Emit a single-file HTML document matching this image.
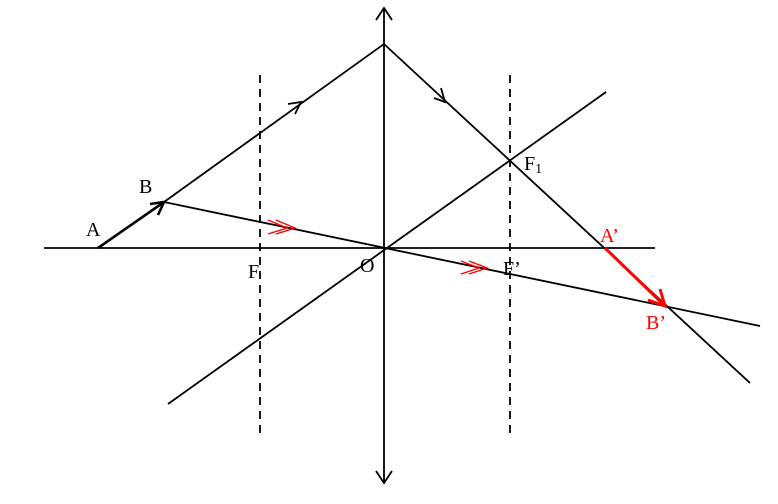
<!DOCTYPE html>
<html><head><meta charset="utf-8"><style>
body{margin:0;background:#fff}
</style></head><body>
<svg width="778" height="499" viewBox="0 0 778 499" xmlns="http://www.w3.org/2000/svg">
<g stroke="#000" stroke-width="1.8" fill="none">
<line x1="44" y1="248" x2="655" y2="248"/>
<line x1="384" y1="8" x2="384" y2="483"/>
<polyline points="376,20 384,8 392,20"/>
<polyline points="376,471 384,483 392,471"/>
<line x1="260" y1="75" x2="260" y2="435" stroke-dasharray="8,6"/>
<line x1="510" y1="75" x2="510" y2="435" stroke-dasharray="8,6"/>
<polyline points="164,202 384,44 750,383"/>
<line x1="164" y1="202" x2="760" y2="326"/>
<line x1="168" y1="404" x2="606" y2="92"/>
<polyline points="288,104 301,102 295,114"/>
<polyline points="434,98 445,102 441,88"/>
<line x1="98" y1="248" x2="164" y2="202" stroke-width="2.6"/>
<polyline points="150,204 164,202 158,215" stroke-width="2.6"/>
</g>
<g stroke="red" fill="none" stroke-width="1.4">
<polyline points="268,220 287,228 268,234"/>
<polyline points="276,220 295,228 276,234"/>
<polyline points="461,261 479,268 461,274"/>
<polyline points="469,261 487,268 469,274"/>
</g>
<g stroke="red" fill="none" stroke-width="3">
<line x1="605" y1="248" x2="665" y2="306"/>
<polyline points="648,300 665,306 660,289"/>
</g>
<g font-family="Liberation Serif, serif" font-size="20">
<text x="86" y="236">A</text>
<text x="139" y="193">B</text>
<text x="248" y="278">F</text>
<text x="360" y="272">O</text>
<text x="503" y="275">F’</text>
<text x="524" y="170">F<tspan font-size="14" dy="3">1</tspan></text>
<text x="600" y="242" fill="red">A’</text>
<text x="646" y="329" fill="red">B’</text>
</g>
</svg>
</body></html>
